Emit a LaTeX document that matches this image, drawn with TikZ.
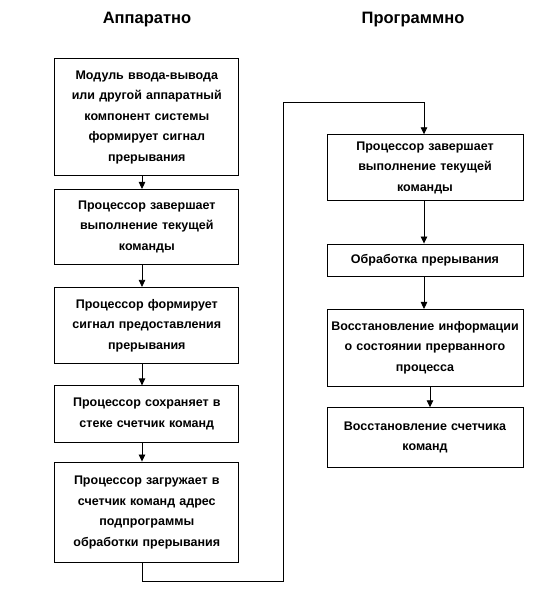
\documentclass[tikz,border=0pt]{standalone}
\usepackage{fontspec}
\setmainfont{Liberation Sans}
\usetikzlibrary{arrows.meta}
\tikzset{
  box/.style={draw, line width=0.8pt, rectangle, inner sep=0pt, align=center,
    font=\bfseries\fontsize{12.5}{20.5}\selectfont},
  lbox/.style={box, minimum width=184pt, text width=175pt},
  rbox/.style={box, minimum width=196pt, text width=192pt},
  conn/.style={line width=0.8pt, -{Triangle[width=6.5pt,length=7pt]}},
  title/.style={font=\bfseries\fontsize{16.5}{18}\selectfont}
}
\begin{document}
\begin{tikzpicture}[x=1pt,y=-1pt]
\useasboundingbox (0,0) rectangle (556,589);
\node[title] (t1) at (147,20) {Аппаратно};
\node[title] (t2) at (413,20) {Программно};

\node[lbox, minimum height=116.6pt] (b1) at (146.8,117) {Модуль ввода-вывода\\или другой аппаратный\\компонент системы\\формирует сигнал\\прерывания};
\node[lbox, minimum height=74.7pt] (b2) at (146.8,226.7) {Процессор завершает\\выполнение текущей\\команды};
\node[lbox, minimum height=76.4pt] (b3) at (146.8,325.5) {Процессор формирует\\сигнал предоставления\\прерывания};
\node[lbox, minimum height=56.3pt] (b4) at (146.8,413.9) {Процессор сохраняет в\\стеке счетчик команд};
\node[lbox, minimum height=100.7pt] (b5) at (146.8,512.3) {Процессор загружает в\\счетчик команд адрес\\подпрограммы\\обработки прерывания};

\node[rbox, minimum height=66pt] (r1) at (425,167.7) {Процессор завершает\\выполнение текущей\\команды};
\node[rbox, minimum height=32.7pt] (r2) at (425,260.3) {Обработка прерывания};
\node[rbox, minimum height=76.7pt] (r3) at (425,347.7) {Восстановление информации\\о состоянии прерванного\\процесса};
\node[rbox, minimum height=59.6pt] (r4) at (425,437.5) {Восстановление счетчика\\команд};

\coordinate (axL) at (142,0);
\coordinate (axR) at (424,0);
\coordinate (axR2) at (430,0);
\coordinate (loopB) at (283,581.3);
\coordinate (loopT) at (283,102.7);

\draw[conn] (b1.south -| axL) -- (b2.north -| axL);
\draw[conn] (b2.south -| axL) -- (b3.north -| axL);
\draw[conn] (b3.south -| axL) -- (b4.north -| axL);
\draw[conn] (b4.south -| axL) -- (b5.north -| axL);
\draw[conn] (b5.south -| axL) |- (loopB) -- (loopT) -| (r1.north -| axR);
\draw[conn] (r1.south -| axR) -- (r2.north -| axR);
\draw[conn] (r2.south -| axR) -- (r3.north -| axR);
\draw[conn] (r3.south -| axR2) -- (r4.north -| axR2);
\end{tikzpicture}
\end{document}
